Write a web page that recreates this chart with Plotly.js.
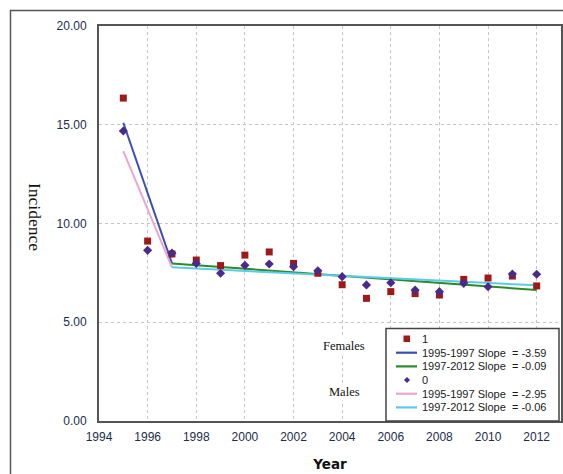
<!DOCTYPE html>
<html>
<head>
<meta charset="utf-8">
<script src="https://cdn.plot.ly/plotly-3.0.1.min.js"></script>
<style>
html,body{margin:0;padding:0;background:#fff;}
#chart{width:563px;height:474px;}
</style>
</head>
<body>
<div id="chart"></div>
<script>
// ---- data ----
const years = [1995,1996,1997,1998,1999,2000,2001,2002,2003,2004,2005,2006,2007,2008,2009,2010,2011,2012];
const femaleRates = [16.35,9.11,8.46,8.15,7.87,8.40,8.56,7.98,7.48,6.90,6.21,6.55,6.45,6.38,7.17,7.24,7.34,6.84];
const maleRates   = [14.68,8.64,8.50,7.98,7.48,7.88,7.95,7.81,7.61,7.31,6.89,7.00,6.63,6.55,6.97,6.80,7.44,7.43];

const segAYears = [1995, 1997];
const segBYears = [1997, 2012];
const femaleSegA = [15.10, 7.98];
const femaleSegB = [7.98, 6.63];
const maleSegA = [13.67, 7.78];
const maleSegB = [7.78, 6.87];

const seriesNames = ['1', '1995-1997 Slope\u00a0 = -3.59', '1997-2012 Slope\u00a0 = -0.09',
                     '0', '1995-1997 Slope\u00a0 = -2.95', '1997-2012 Slope\u00a0 = -0.06'];
const groupLabels = ['Females', 'Males'];
const xTickVals = [1994,1996,1998,2000,2002,2004,2006,2008,2010,2012];
const yTickVals = [0,5,10,15,20];

// ---- styles ----
const C = {
  fem: '#9e1a1a', male: '#4a2a8a',
  blue: '#3b4fb0', green: '#2a8a2a', pink: '#e8a6d0', cyan: '#5ccbe8'
};

const traces = [
  {x: segAYears, y: femaleSegA, mode: 'lines', line: {color: C.blue, width: 2}, name: seriesNames[1]},
  {x: segBYears, y: femaleSegB, mode: 'lines', line: {color: C.green, width: 2}, name: seriesNames[2]},
  {x: segAYears, y: maleSegA, mode: 'lines', line: {color: C.pink, width: 2}, name: seriesNames[4]},
  {x: segBYears, y: maleSegB, mode: 'lines', line: {color: C.cyan, width: 2}, name: seriesNames[5]},
  {x: years, y: femaleRates, mode: 'markers', marker: {symbol: 'square', size: 7, color: C.fem}, name: seriesNames[0]},
  {x: years, y: maleRates, mode: 'markers', marker: {symbol: 'diamond', size: 7, color: C.male}, name: seriesNames[3]}
];

// pixel -> paper helpers (plot area 99..561 x 26..421)
const L = 99, R = 561, T = 26, B = 421;
const px = v => (v - L) / (R - L);
const py = v => (B - v) / (B - T);

const shapes = [
  // outer frame
  {type: 'path', xref: 'paper', yref: 'paper',
   path: `M ${px(10.5)},${py(480)} L ${px(10.5)},${py(10.5)} L ${px(575)},${py(10.5)}`,
   line: {color: '#555', width: 1.5}},
  // legend box
  {type: 'rect', xref: 'paper', yref: 'paper', x0: px(386), x1: px(559), y0: py(328.5), y1: py(421),
   fillcolor: '#fff', line: {color: '#444', width: 1.5}, layer: 'above'}
];
const annotations = [];
const rowY = [339, 352.7, 366.4, 380, 393.7, 407.4];
const lineColors = [null, C.blue, C.green, null, C.pink, C.cyan];
rowY.forEach((yy, i) => {
  if (i === 0) {
    shapes.push({type: 'rect', xref: 'paper', yref: 'paper', x0: px(403.5), x1: px(410), y0: py(342), y1: py(335.5),
      fillcolor: C.fem, line: {width: 0}, layer: 'above'});
  } else if (i === 3) {
    shapes.push({type: 'path', xref: 'paper', yref: 'paper',
      path: `M ${px(407)},${py(yy-3)} L ${px(410)},${py(yy)} L ${px(407)},${py(yy+3)} L ${px(404)},${py(yy)} Z`,
      fillcolor: C.male, line: {width: 0}, layer: 'above'});
  } else {
    shapes.push({type: 'line', xref: 'paper', yref: 'paper', x0: px(396), x1: px(417), y0: py(yy), y1: py(yy),
      line: {color: lineColors[i], width: 2.2}, layer: 'above'});
  }
  annotations.push({xref: 'paper', yref: 'paper', x: px(420), y: py(yy), xanchor: 'left', yanchor: 'middle',
    text: seriesNames[i], showarrow: false, font: {family: 'Liberation Sans, Arial', size: 11, color: '#1a1a1a'}});
});
annotations.push(
  {xref: 'paper', yref: 'paper', x: px(344), y: py(355), text: groupLabels[0], showarrow: false,
   bgcolor: '#fff', font: {family: 'Liberation Serif, Times New Roman', size: 12.5, color: '#111'}},
  {xref: 'paper', yref: 'paper', x: px(344), y: py(401), text: groupLabels[1], showarrow: false,
   bgcolor: '#fff', font: {family: 'Liberation Serif, Times New Roman', size: 12.5, color: '#111'}},
  {xref: 'paper', yref: 'paper', x: px(23), y: py(217), text: 'Incidence', showarrow: false, textangle: 90,
   font: {family: 'Liberation Serif, Times New Roman', size: 17.5, color: '#111'}}
);

const tickFont = {family: 'Liberation Sans, Arial', size: 12, color: '#1c2d4c'};
const layout = {
  width: 563, height: 474,
  margin: {l: L, r: 563 - R, t: T, b: 474 - B},
  paper_bgcolor: '#fff', plot_bgcolor: '#fff',
  showlegend: false,
  xaxis: {
    range: [1994, 2013], tickvals: xTickVals, ticktext: xTickVals.map(String),
    showgrid: true, gridcolor: '#c4c4c4', griddash: 'dot', gridwidth: 1,
    zeroline: false, showline: true, mirror: true, linecolor: '#555', linewidth: 2,
    ticks: '', tickfont: tickFont, ticklabelstandoff: 4,
    title: {text: '<b>Year</b>', font: {family: 'DejaVu Sans', size: 13.5, color: '#111'}, standoff: 16}
  },
  yaxis: {
    range: [0, 20], tickvals: yTickVals, ticktext: yTickVals.map(v => v.toFixed(2)),
    showgrid: true, gridcolor: '#c4c4c4', griddash: 'dot', gridwidth: 1,
    zeroline: false, showline: true, mirror: true, linecolor: '#555', linewidth: 2,
    ticks: '', tickfont: tickFont, ticklabelstandoff: 8
  },
  shapes: shapes,
  annotations: annotations
};

Plotly.newPlot('chart', traces, layout, {displayModeBar: false, staticPlot: true});
</script>
</body>
</html>
